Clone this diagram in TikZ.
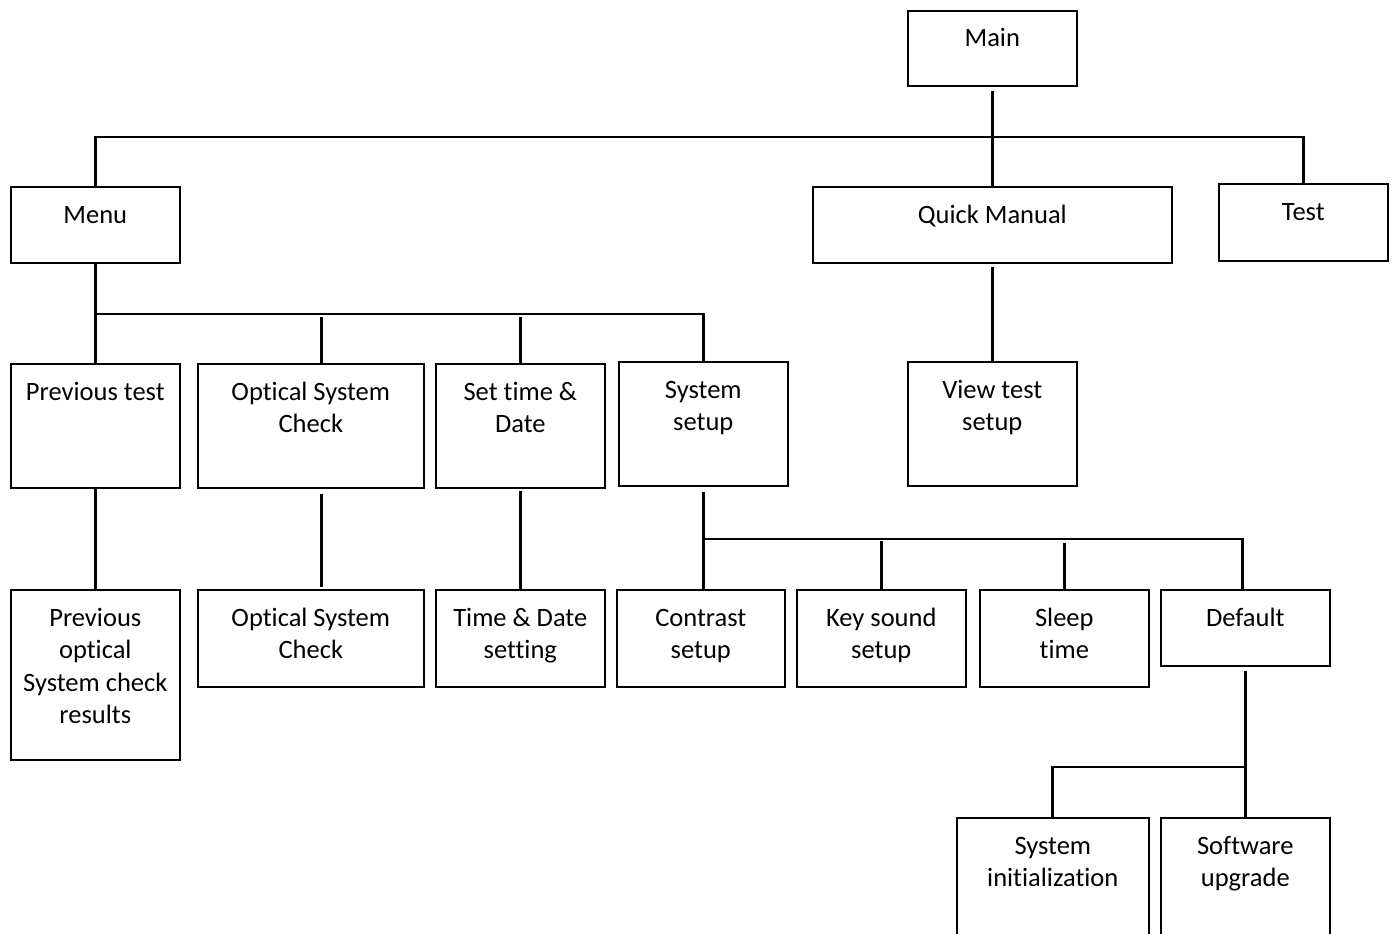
\documentclass[tikz,border=0pt]{standalone}
\usepackage{fontspec}
\setmainfont{Carlito}[Ligatures=NoCommon]
\newcommand\mybx[6]{%
  \node[box, minimum width={(#4-#2)*1pt}, minimum height={(#5-#3)*1pt}] (#1) at (#2,#3) {};
  \node[lbl] (#1-t) at ([yshift=-37pt]#1.north) {\parbox[t]{\dimexpr #4pt-#2pt\relax}{\centering #6}};}
\begin{document}
\begin{tikzpicture}[x=1pt,y=-1pt,
  box/.style={draw, line width=1.6pt, inner sep=0pt, anchor=north west},
  lbl/.style={inner sep=0pt, anchor=base, font=\fontsize{26.5}{32.5}\selectfont},
  conn/.style={line width=2.8pt}]
\useasboundingbox (0,0) rectangle (1393,934);
\coordinate (bus1) at (0,137);
\coordinate (bus2) at (0,314);
\coordinate (bus3) at (0,539);
\coordinate (bus4) at (0,767);
% level 0/1
\mybx{main}{907}{10}{1076}{85}{Main}
\mybx{menu}{10}{186}{179}{262}{Menu}
\mybx{qm}{812}{186}{1171}{262}{Quick Manual}
\mybx{test}{1218}{183}{1387}{260}{Test}
% level 2
\mybx{pt}{10}{363}{179}{487}{Previous test}
\mybx{osc}{197}{363}{423}{487}{Optical System\\Check}
\mybx{std}{435}{363}{604}{487}{Set time \&\\Date}
\mybx{ss}{618}{361}{787}{485}{System\\setup}
\mybx{vts}{907}{361}{1076}{485}{View test\\setup}
% level 3
\mybx{poc}{10}{589}{179}{759}{Previous\\optical\\System check\\results}
\mybx{osc2}{197}{589}{423}{686}{Optical System\\Check}
\mybx{tds}{435}{589}{604}{686}{Time \& Date\\setting}
\mybx{con}{616}{589}{784}{686}{Contrast\\setup}
\mybx{key}{796}{589}{965}{686}{Key sound\\setup}
\mybx{slp}{979}{589}{1148}{686}{Sleep\\time}
\mybx{def}{1160}{589}{1329}{665}{Default}
% level 4 (cut off at the bottom)
\mybx{si}{956}{817}{1148}{960}{System\\initialization}
\mybx{sw}{1160}{817}{1329}{960}{Software\\upgrade}
% connectors
\draw[conn, shorten <=4pt] (main.south) -- (qm.north);
\draw[conn] (menu.north) -- (menu.north |- bus1) -| (test.north);
\draw[conn] (menu.south) -- (pt.north);
\draw[conn] (menu.south |- bus2) -| (ss.north);
\draw[conn, shorten <=3pt] ([xshift=11pt]osc.north |- bus2) -- ([xshift=11pt]osc.north);
\draw[conn, shorten <=3pt] (std.north |- bus2) -- (std.north);
\draw[conn, shorten <=3pt] (qm.south) -- (vts.north);
\draw[conn] (pt.south) -- (poc.north);
\draw[conn, shorten <=5pt, shorten >=2pt] ([xshift=11pt]osc.south) -- ([xshift=11pt]osc2.north);
\draw[conn, shorten <=2pt] (std.south) -- (tds.north);
\draw[conn, shorten <=5pt] (ss.south) -- (ss.south |- bus3) -| ([xshift=-3pt]def.north);
\draw[conn] (ss.south |- bus3) -- (ss.south |- con.north);
\draw[conn, shorten <=2pt] (key.north |- bus3) -- (key.north);
\draw[conn, shorten <=4pt] (slp.north |- bus3) -- (slp.north);
\draw[conn, shorten <=4pt] (def.south) -- (sw.north);
\draw[conn] (def.south |- bus4) -| (si.north);
\end{tikzpicture}
\end{document}
